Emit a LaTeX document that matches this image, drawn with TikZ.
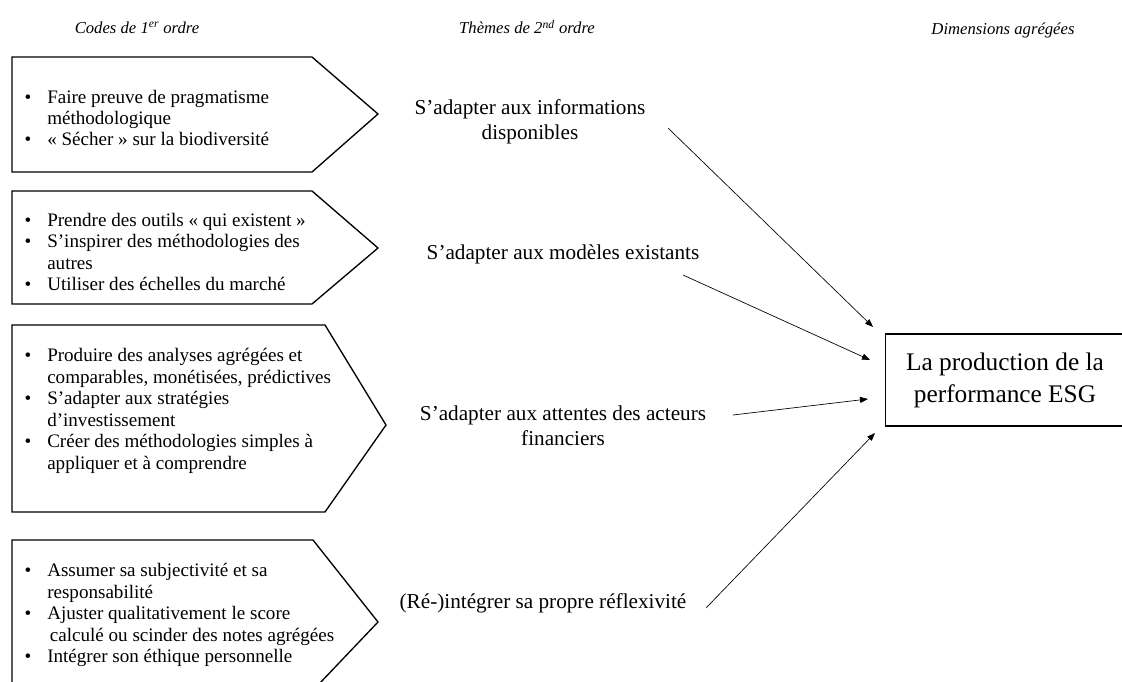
\documentclass[tikz,border=0pt]{standalone}
\usepackage{fontspec}
\setmainfont{Liberation Serif}
\usetikzlibrary{arrows.meta,positioning}

\tikzset{
  forme/.style={draw,line width=1pt},
  puces/.style={align=left,anchor=west,inner sep=0pt,font=\fontsize{14.3}{16.1}\selectfont},
  theme/.style={align=center,inner sep=0pt,font=\fontsize{15.9}{18.8}\selectfont},
  titre/.style={font=\itshape\fontsize{12.5}{14}\selectfont,inner sep=0pt},
  fleche/.style={-{Triangle[length=6pt,width=4.5pt]},line width=0.5pt}
}
\newcommand{\puce}{\makebox[0pt][r]{\textbullet\hspace{12pt}}}

\begin{document}
\begin{tikzpicture}[x=0.75pt,y=-0.75pt]
\useasboundingbox (0,0) rectangle (1122,682);
%titres des colonnes
\node[titre] (c1) at (137,28) {Codes de 1\textsuperscript{er} ordre};
\node[titre] (c2) at (527,27) {Thèmes de 2\textsuperscript{nd} ordre};
\node[titre] (c3) at (1003,30) {Dimensions agrégées};
%formes en fleche
\draw[forme] (12,57) -- (312,57) -- (378,114) -- (312,172) -- (12,172) -- cycle;
\draw[forme] (12,191) -- (312,191) -- (378,248) -- (312,304) -- (12,304) -- cycle;
\draw[forme] (12,325) -- (325,325) -- (386,425) -- (325,512) -- (12,512) -- cycle;
\draw[forme] (12,540) -- (313,540) -- (378,622) -- (300,704) -- (12,704) -- cycle;
%codes de 1er ordre
\node[puces] (p1) at (47,118) {\puce Faire preuve de pragmatisme\\
  méthodologique\\
  \puce « Sécher » sur la biodiversité};
\node[puces] (p2) at (47,252) {\puce Prendre des outils « qui existent »\\
  \puce S’inspirer des méthodologies des\\
  autres\\
  \puce Utiliser des échelles du marché};
\node[puces] (p3) at (47,411) {\puce Produire des analyses agrégées et\\
  comparables, monétisées, prédictives\\
  \puce S’adapter aux stratégies\\
  d’investissement\\
  \puce Créer des méthodologies simples à\\
  appliquer et à comprendre};
\node[puces] (p4) at (47,615) {\puce Assumer sa subjectivité et sa\\
  responsabilité\\
  \puce Ajuster qualitativement le score\\
  \hspace{2pt}calculé ou scinder des notes agrégées\\
  \puce Intégrer son éthique personnelle};
%themes de 2nd ordre
\node[theme] (t1) at (530,122) {S’adapter aux informations\\disponibles};
\node[theme] (t2) at (563,254) {S’adapter aux modèles existants};
\node[theme] (t3) at (563,426) {S’adapter aux attentes des acteurs\\financiers};
\node[theme] (t4) at (543,603) {(Ré-)intégrer sa propre réflexivité};
%dimension agregee
\node[draw,line width=0.8pt,minimum width=179pt,minimum height=69pt,
  align=center,font=\fontsize{19}{24}\selectfont] (esg) at (1005,380)
  {La production de la\\performance ESG};
%fleches
\coordinate (d1) at (668,128);
\coordinate (a1) at (873,327);
\coordinate (d2) at (683,275);
\coordinate (a2) at (870,360);
\coordinate (d3) at (733,415);
\coordinate (a3) at (868,399);
\coordinate (d4) at (706,608);
\coordinate (a4) at (875,433);
\draw[fleche] (d1) -- (a1);
\draw[fleche] (d2) -- (a2);
\draw[fleche] (d3) -- (a3);
\draw[fleche] (d4) -- (a4);
\end{tikzpicture}
\end{document}
